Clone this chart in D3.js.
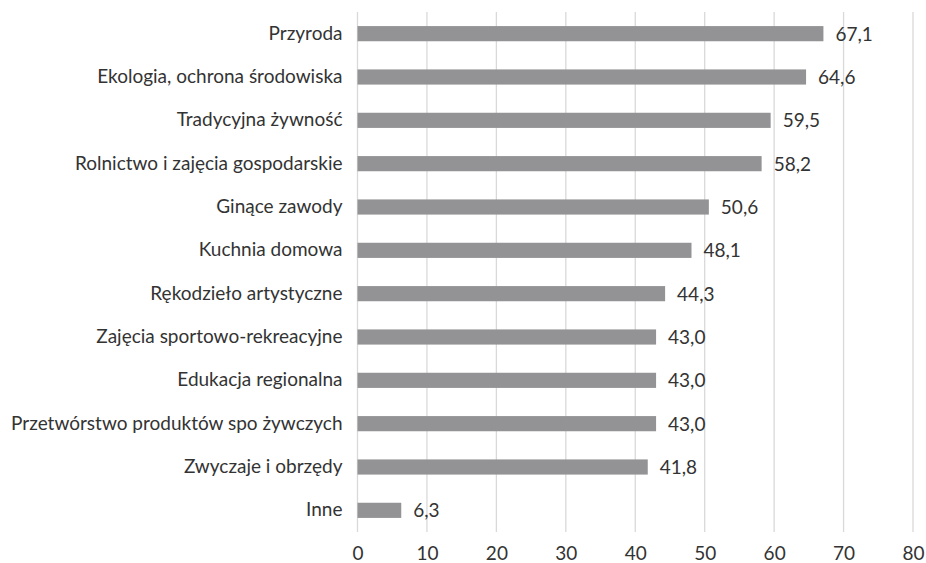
<!DOCTYPE html>
<html>
<head>
<meta charset="utf-8">
<script src="https://cdn.jsdelivr.net/npm/d3@7"></script>
<style>
  body { margin: 0; background: #fff; }
  text { font-family: Lato, "Open Sans", sans-serif; fill: #333; }
</style>
</head>
<body>
<svg id="chart"></svg>
<script>
var categories = [
  "Przyroda",
  "Ekologia, ochrona środowiska",
  "Tradycyjna  żywność",
  "Rolnictwo i zajęcia gospodarskie",
  "Ginące zawody",
  "Kuchnia domowa",
  "Rękodzieło artystyczne",
  "Zajęcia sportowo-rekreacyjne",
  "Edukacja regionalna",
  "Przetwórstwo produktów spo żywczych",
  "Zwyczaje i obrzędy",
  "Inne"
];
var values = [67.1, 64.6, 59.5, 58.2, 50.6, 48.1, 44.3, 43.0, 43.0, 43.0, 41.8, 6.3];
var ticks = [0, 10, 20, 30, 40, 50, 60, 70, 80];

var width = 926, height = 563;
var margin = { top: 12, right: 13, bottom: 31, left: 357.5 };
var fontSize = 19;

var svg = d3.select('#chart')
    .attr('width', width)
    .attr('height', height);

var g = svg.append('g')
    .attr('transform', 'translate(' + margin.left + ',' + margin.top + ')');

var innerW = width - margin.left - margin.right,
    innerH = height - margin.top - margin.bottom;

var xScale = d3.scaleLinear().domain([0, 80]).range([0, innerW]);
var yScale = d3.scaleBand().domain(categories).range([0, innerH]).paddingInner(0.65).paddingOuter(0.325);

var fmt = function(v) { return d3.format('.1f')(v).replace('.', ','); };

// gridlines
g.selectAll('.grid')
    .data(ticks)
  .enter().append('line')
    .attr('class', 'grid')
    .attr('x1', function(d) { return xScale(d); })
    .attr('x2', function(d) { return xScale(d); })
    .attr('y1', 0)
    .attr('y2', innerH)
    .attr('stroke', '#d9d9d9')
    .attr('stroke-width', 1.3);

// bars
g.selectAll('.bar')
    .data(values)
  .enter().append('rect')
    .attr('class', 'bar')
    .attr('x', 0)
    .attr('y', function(d, i) { return yScale(categories[i]); })
    .attr('width', function(d) { return xScale(d); })
    .attr('height', yScale.bandwidth())
    .attr('fill', '#939396');

// value labels
g.selectAll('.val')
    .data(values)
  .enter().append('text')
    .attr('class', 'val')
    .attr('x', function(d) { return xScale(d) + 12; })
    .attr('y', function(d, i) { return yScale(categories[i]) + yScale.bandwidth() / 2; })
    .attr('dy', '0.36em')
    .attr('font-size', fontSize)
    .text(fmt);

// category labels
var yAxis = d3.axisLeft(yScale).tickSize(0).tickPadding(15);
g.append('g')
    .call(yAxis)
    .call(function(s) {
      s.select('.domain').remove();
      s.selectAll('text').attr('font-size', fontSize).attr('fill', '#333')
        .style('font-family', 'Lato, "Open Sans", sans-serif');
    });

// x axis tick labels
var xAxis = d3.axisBottom(xScale).tickValues(ticks).tickSize(0).tickPadding(15).tickFormat(d3.format('d'));
g.append('g')
    .attr('transform', 'translate(0,' + innerH + ')')
    .call(xAxis)
    .call(function(s) {
      s.select('.domain').remove();
      s.selectAll('text').attr('font-size', fontSize).attr('fill', '#333')
        .style('font-family', 'Lato, "Open Sans", sans-serif');
    });
</script>
</body>
</html>
